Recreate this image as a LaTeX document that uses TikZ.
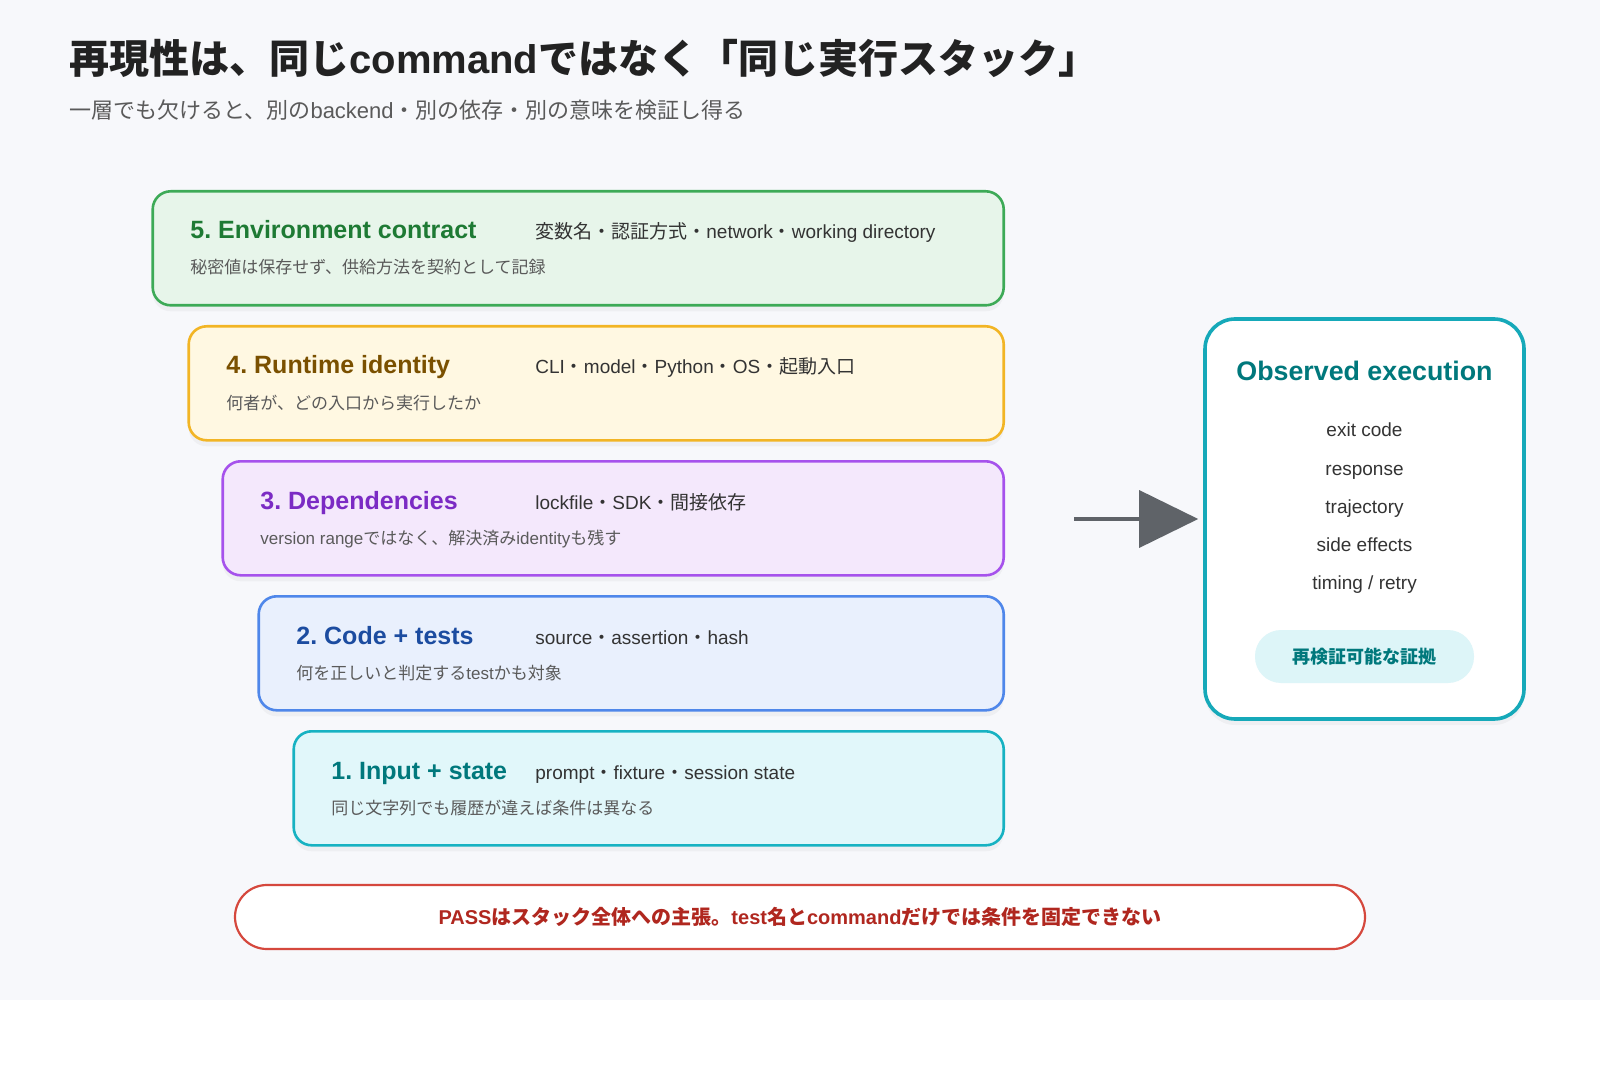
\documentclass[tikz,border=0pt]{standalone}
\usepackage{fontspec}
\setmainfont{Liberation Sans}
\newfontfamily\jp{Noto Sans CJK JP}
\usetikzlibrary{arrows.meta,shadows}
\definecolor{pagebg}{HTML}{F7F8FB}
\definecolor{ink}{HTML}{222222}
\definecolor{body}{HTML}{333333}
\definecolor{muted}{HTML}{5A5A5A}
\definecolor{envline}{HTML}{3DAA57}
\definecolor{envfill}{HTML}{E7F5EA}
\definecolor{envtext}{HTML}{1E7A34}
\definecolor{runline}{HTML}{F2B525}
\definecolor{runfill}{HTML}{FFF8E2}
\definecolor{runtext}{HTML}{7A5000}
\definecolor{depline}{HTML}{A652EC}
\definecolor{depfill}{HTML}{F4E8FC}
\definecolor{deptext}{HTML}{7B2BC4}
\definecolor{codeline}{HTML}{4F87EA}
\definecolor{codefill}{HTML}{E9F0FD}
\definecolor{codetext}{HTML}{1C4CA0}
\definecolor{inline}{HTML}{17B2C2}
\definecolor{infill}{HTML}{E1F7FA}
\definecolor{intext}{HTML}{00787C}
\definecolor{obsline}{HTML}{16A9B9}
\definecolor{pillfill}{HTML}{DDF5F8}
\definecolor{arrowgray}{HTML}{5F6368}
\definecolor{noteline}{HTML}{D5483D}
\definecolor{notetext}{HTML}{B0271F}
\newcommand\ja[1]{{\jp #1}}
\newcommand\la[1]{{\rmfamily #1}}
\frenchspacing
\tikzset{
  layer/.style 2 args={draw=#1, fill=#2, line width=1.3pt, rounded corners=9pt,
    minimum height=57pt, anchor=north east,
    drop shadow={shadow xshift=0pt, shadow yshift=-3pt, opacity=.07}},
  ltitle/.style={anchor=base west, inner sep=0pt, text=#1,
    font=\fontsize{12.5}{15}\selectfont\bfseries},
  litems/.style={anchor=base west, inner sep=0pt, text=body,
    font=\fontsize{9.5}{12}\selectfont},
  ldesc/.style={anchor=base west, inner sep=0pt, text=muted,
    font=\jp\fontsize{8.5}{11}\selectfont},
  obsitem/.style={anchor=base, inner sep=0pt, text=body,
    font=\fontsize{9.5}{12}\selectfont},
}
\begin{document}
\begin{tikzpicture}[x=0.5pt,y=-0.5pt]
  \useasboundingbox (0,0) rectangle (1600,1080);
  \fill[white] (0,0) rectangle (1600,1080);
  \fill[pagebg] (0,0) rectangle (1600,1000);

  \node[anchor=base west, inner sep=0pt, text=ink, font=\jp\fontsize{20}{24}\selectfont\bfseries] (title) at (69,74)
    {再現性は、同じ\la{command}ではなく「同じ実行スタック」};
  \node[anchor=base west, inner sep=0pt, text=muted, font=\jp\fontsize{11}{13}\selectfont] (subtitle) at (69,119)
    {一層でも欠けると、別の\la{backend}・別の依存・別の意味を検証し得る};

  \node[layer={envline}{envfill}, minimum width=425.5pt] (env) at (1005,190) {};
  \node[ltitle=envtext] (envtitle) at (190,239) {5. Environment contract};
  \node[litems] (envitems) at (535,239) {\ja{変数名・認証方式・}network\ja{・}working directory};
  \node[ldesc] (envdesc) at (190,274) {秘密値は保存せず、供給方法を契約として記録};

  \node[layer={runline}{runfill}, minimum width=407.5pt] (run) at (1005,325) {};
  \node[ltitle=runtext] (runtitle) at (226,374) {4. Runtime identity};
  \node[litems] (runitems) at (535,374) {CLI\ja{・}model\ja{・}Python\ja{・}OS\ja{・起動入口}};
  \node[ldesc] (rundesc) at (226,409) {何者が、どの入口から実行したか};

  \node[layer={depline}{depfill}, minimum width=390.5pt] (dep) at (1005,460) {};
  \node[ltitle=deptext] (deptitle) at (260,509) {3. Dependencies};
  \node[litems] (depitems) at (535,509) {lockfile\ja{・}SDK\ja{・間接依存}};
  \node[ldesc] (depdesc) at (260,544) {\la{version range}ではなく、解決済み\la{identity}も残す};

  \node[layer={codeline}{codefill}, minimum width=372.5pt] (code) at (1005,595) {};
  \node[ltitle=codetext] (codetitle) at (296,644) {2. Code + tests};
  \node[litems] (codeitems) at (535,644) {source\ja{・}assertion\ja{・}hash};
  \node[ldesc] (codedesc) at (296,679) {何を正しいと判定する\la{test}かも対象};

  \node[layer={inline}{infill}, minimum width=355pt] (input) at (1005,730) {};
  \node[ltitle=intext] (inputtitle) at (331,779) {1. Input + state};
  \node[litems] (inputitems) at (535,779) {prompt\ja{・}fixture\ja{・}session state};
  \node[ldesc] (inputdesc) at (331,814) {同じ文字列でも履歴が違えば条件は異なる};

  \node[draw=obsline, fill=white, line width=1.8pt, rounded corners=15pt, minimum width=159.5pt, minimum height=200pt,
    drop shadow={shadow xshift=0pt, shadow yshift=-3pt, opacity=.07}] (obs) at (1364.5,519) {};
  \node[anchor=base, inner sep=0pt, text=intext, font=\fontsize{13.4}{16}\selectfont\bfseries] (obstitle) at (1364.5,380) {Observed execution};
  \node[obsitem] (exitcode) at (1364.5,437) {exit code};
  \node[obsitem] (response) at (1364.5,475) {response};
  \node[obsitem] (trajectory) at (1364.5,513) {trajectory};
  \node[obsitem] (sideeffects) at (1364.5,551) {side effects};
  \node[obsitem] (timing) at (1364.5,589) {timing / retry};
  \node[fill=pillfill, rounded corners=13pt, minimum width=109.5pt, minimum height=26.5pt, text=intext,
    font=\jp\fontsize{9}{11}\selectfont\bfseries] (evidence) at (1364.5,656.5) {再検証可能な証拠};

  \coordinate (arrowtail) at (1074,519);
  \draw[arrowgray, line width=1.75pt, -{Triangle[length=29.5pt,width=28.5pt]}, shorten >=2.5pt] (arrowtail) -- (obs.west);

  \node[draw=noteline, fill=white, line width=1.1pt, rounded corners=16pt, minimum width=565pt, minimum height=32pt,
    text=notetext, font=\fontsize{10}{12}\selectfont\bfseries] (note) at (800,917)
    {PASS\ja{はスタック全体への主張。}test\ja{名と}command\ja{だけでは条件を固定できない}};
\end{tikzpicture}
\end{document}
